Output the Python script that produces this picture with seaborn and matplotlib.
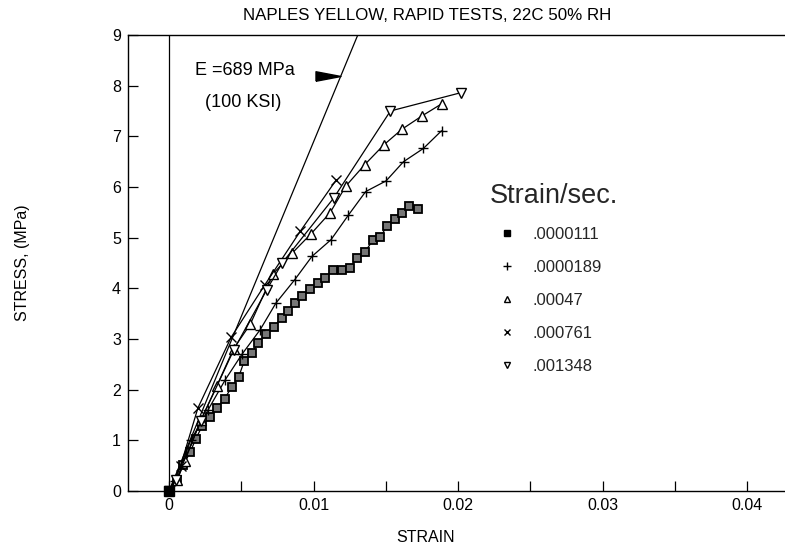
import matplotlib
matplotlib.use("Agg")
import matplotlib.pyplot as plt
from matplotlib.lines import Line2D
import seaborn as sns
import pandas as pd

# ---------------- data ----------------
rate_labels = [".0000111", ".0000189", ".00047", ".000761", ".001348"]

s1_strain = [0, 0.00055, 0.0010, 0.00146, 0.00185, 0.00231, 0.00283, 0.00333, 0.00384,
             0.00436, 0.00482, 0.00521, 0.00573, 0.00619, 0.00671, 0.00726, 0.00779,
             0.00820, 0.00872, 0.00922, 0.00977, 0.0103, 0.0108, 0.01137, 0.01196,
             0.0125, 0.01304, 0.01356, 0.01411, 0.01463, 0.01509, 0.01562, 0.01612,
             0.01662, 0.01721]
s1_stress = [0, 0.22, 0.52, 0.76, 1.03, 1.29, 1.46, 1.64, 1.82, 2.06, 2.25, 2.57, 2.73,
             2.93, 3.09, 3.24, 3.42, 3.56, 3.72, 3.84, 3.98, 4.11, 4.21, 4.37, 4.37,
             4.41, 4.59, 4.72, 4.95, 5.01, 5.24, 5.36, 5.49, 5.62, 5.57]

s2_strain = [0, 0.0004, 0.0015, 0.0027, 0.0039, 0.00505, 0.0063, 0.0074, 0.0087, 0.00989,
             0.01121, 0.0124, 0.01361, 0.01502, 0.01623, 0.0176, 0.01886]
s2_stress = [0, 0.2, 1.0, 1.6, 2.2, 2.7, 3.18, 3.71, 4.17, 4.63, 4.96, 5.44, 5.91, 6.12,
             6.5, 6.76, 7.11]

s3_strain = [0, 0.00055, 0.0011, 0.0022, 0.0033, 0.00447, 0.00562, 0.00721, 0.00854,
             0.00984, 0.01114, 0.01224, 0.01354, 0.01486, 0.01612, 0.01749, 0.01886]
s3_stress = [0, 0.22, 0.6, 1.4, 2.07, 2.81, 3.29, 4.29, 4.7, 5.08, 5.49, 6.02, 6.44,
             6.83, 7.14, 7.4, 7.64]

s4_strain = [0, 0.0008, 0.002, 0.00429, 0.00661, 0.00909, 0.01155]
s4_stress = [0, 0.5, 1.64, 3.03, 4.06, 5.13, 6.13]

s5_strain = [0, 0.0005, 0.0022, 0.00447, 0.00676, 0.00783, 0.01139, 0.01532, 0.02018]
s5_stress = [0, 0.22, 1.39, 2.78, 3.97, 4.5, 5.78, 7.5, 7.86]

E_MODULUS = 689.0          # MPa
STRESS_MAX = 9.0
x_ticks = [0, 0.01, 0.02, 0.03, 0.04]
x_tick_labels = ["0", "0.01", "0.02", "0.03", "0.04"]
y_ticks = list(range(0, 10))

# ---------------- style ----------------
sns.set_theme(style="ticks")
plt.rcParams["font.family"] = ["Liberation Sans", "DejaVu Sans"]
plt.rcParams["axes.linewidth"] = 1.0

fig = plt.figure(figsize=(7.85, 5.45), dpi=100)
W, H = 785, 545
ax = fig.add_axes([128 / W, (H - 491) / H, (W - 128) / W, (491 - 35) / H])

series = [
    (s1_strain, s1_stress, dict(marker="s", markersize=5.6, markerfacecolor="#767676",
                                markeredgecolor="black", markeredgewidth=1.3)),
    (s2_strain, s2_stress, dict(marker="+", markersize=7, markeredgewidth=1.0,
                                markeredgecolor="black")),
    (s3_strain, s3_stress, dict(marker="^", markersize=7.5, markerfacecolor="white",
                                markeredgecolor="black", markeredgewidth=1.0)),
    (s4_strain, s4_stress, dict(marker="x", markersize=7.5, markeredgewidth=1.0,
                                markeredgecolor="black")),
    (s5_strain, s5_stress, dict(marker="v", markersize=7.5, markerfacecolor="white",
                                markeredgecolor="black", markeredgewidth=1.0)),
]

for xs, ys, kw in series:
    df = pd.DataFrame({"strain": xs, "stress": ys})
    sns.lineplot(data=df, x="strain", y="stress", ax=ax, color="black", linewidth=0.9,
                 sort=False, estimator=None, legend=False, zorder=3, **kw)

# origin point of the slowest test drawn solid
ax.plot([s1_strain[0]], [s1_stress[0]], marker="s", markersize=6.5, color="black",
        linestyle="none", zorder=5, clip_on=False)

# modulus line E = 689 MPa
e_df = pd.DataFrame({"strain": [0, STRESS_MAX / E_MODULUS], "stress": [0, STRESS_MAX]})
sns.lineplot(data=e_df, x="strain", y="stress", ax=ax, color="black", linewidth=0.9,
             legend=False, zorder=2)

# vertical zero-strain line
ax.axvline(0, color="black", linewidth=0.9, zorder=2)

# annotation text + arrow
ax.text(0.0018, 8.29, "E =689 MPa", fontsize=13, ha="left", va="center", color="black")
ax.text(0.0025, 7.66, "(100 KSI)", fontsize=13, ha="left", va="center", color="black")
arrow = [(-1, -0.38), (1, 0), (-1, 0.38), (-1, -0.38)]
ax.plot([0.0110], [8.2], marker=arrow, markersize=18, color="black", linestyle="none")

# axes
ax.set_xlim(-0.00284, 0.04263)
ax.set_ylim(0, STRESS_MAX)
ax.set_xticks(x_ticks)
ax.set_xticklabels(x_tick_labels)
ax.set_xticks([0.005, 0.015, 0.025, 0.035], minor=True)
ax.set_yticks(y_ticks)
ax.tick_params(axis="both", which="both", direction="in", length=7, width=0.9,
               labelsize=11.5, colors="black")
ax.tick_params(axis="x", pad=5)
ax.tick_params(axis="y", pad=5)
ax.spines["right"].set_visible(False)
for s in ["left", "bottom", "top"]:
    ax.spines[s].set_color("black")

ax.set_xlabel("STRAIN", fontsize=11.5, color="black")
ax.set_ylabel("STRESS, (MPa)", fontsize=11.5, color="black")
ax.xaxis.set_label_coords((426 - 128) / (W - 128), -(530 - 491) / (491 - 35))
ax.yaxis.set_label_coords(-(128 - 30) / (W - 128), 0.5)

fig.text(427 / W, 1 - 15 / H, "NAPLES YELLOW, RAPID TESTS, 22C 50% RH", fontsize=12.2,
         ha="center", va="center", color="black")

# legend
handles = [
    Line2D([], [], marker="s", markersize=5, color="black", linestyle="none"),
    Line2D([], [], marker="+", markersize=6, color="black", linestyle="none", markeredgewidth=1.0),
    Line2D([], [], marker="^", markersize=5, markerfacecolor="white", markeredgecolor="black",
           linestyle="none"),
    Line2D([], [], marker="x", markersize=5, color="black", linestyle="none", markeredgewidth=1.0),
    Line2D([], [], marker="v", markersize=5, markerfacecolor="white", markeredgecolor="black",
           linestyle="none"),
]
leg = ax.legend(handles, rate_labels, title="Strain/sec.", loc="upper left",
                bbox_to_anchor=(490 / W, 1 - 183 / H), bbox_transform=fig.transFigure,
                frameon=False, fontsize=12, title_fontsize=19.5, labelspacing=1.08,
                handlelength=2.0, handletextpad=0.55, borderpad=0, borderaxespad=0,
                alignment="left")

ax.grid(False)
fig.savefig("out.png", dpi=100)
